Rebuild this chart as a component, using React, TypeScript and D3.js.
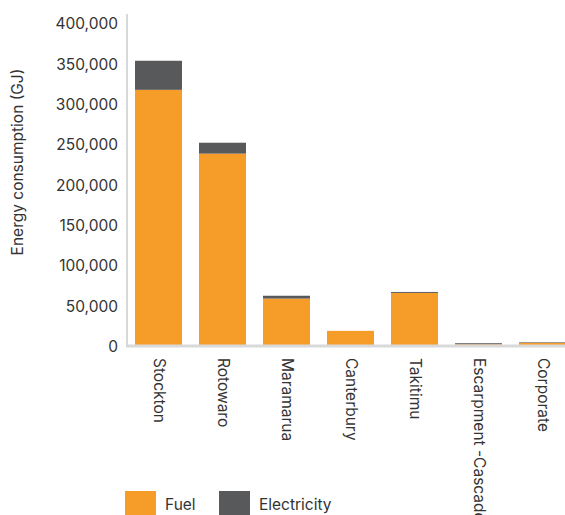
import React from "react";
import * as d3 from "d3";

const categories = ["Stockton", "Rotowaro", "Maramarua", "Canterbury", "Takitimu", "Escarpment -Cascade", "Corporate"];
const fuel = [316000, 237000, 57500, 17500, 64500, 900, 2600];
const electricity = [36000, 13500, 3500, 0, 1200, 1300, 700];
const seriesNames = ["Fuel", "Electricity"];
const seriesColors = ["#F59D28", "#58595B"];
const yTicks = [0, 50000, 100000, 150000, 200000, 250000, 300000, 350000, 400000];

const W = 565;
const H = 515;
const FONT = "Inter, 'Open Sans', sans-serif";
const FS = 15.5;

export default function App() {
  const x = d3.scaleBand<string>().domain(categories).range([126.5, 574.5]).paddingInner(0.266).paddingOuter(0.133);
  const y = d3.scaleLinear().domain([0, 400000]).range([345, 22]);
  const fmt = d3.format(",");

  const rows = categories.map((c, i) => ({ cat: c, Fuel: fuel[i], Electricity: electricity[i] }));
  const stack = d3.stack<any>().keys(seriesNames)(rows);

  return (
    <svg width={W} height={H} style={{ position: "absolute", left: 0, top: 0, display: "block" }} fontFamily={FONT}>
      <rect x={0} y={0} width={W} height={H} fill="#ffffff" />
      {/* y axis line */}
      <line x1={127} x2={127} y1={14} y2={347} stroke="#d9d9d9" strokeWidth={2} />
      {/* y tick labels */}
      {yTicks.map((t) => (
        <text key={t} x={118} y={y(t) + 3} textAnchor="end" dominantBaseline="middle" fontSize={FS} fill="#333333">
          {fmt(t)}
        </text>
      ))}
      {/* y title */}
      <text
        transform={`translate(18.5,${162}) rotate(-90)`}
        textAnchor="middle"
        dominantBaseline="middle"
        fontSize={FS}
        fill="#333333"
      >
        Energy consumption (GJ)
      </text>
      {/* bars */}
      {stack.map((s, si) => (
        <g key={s.key} fill={seriesColors[si]}>
          {s.map((d, i) => {
            const h = y(d[0]) - y(d[1]);
            if (h <= 0) return null;
            return <rect key={i} x={x(categories[i])!} y={y(d[1])} width={x.bandwidth()} height={h} />;
          })}
        </g>
      ))}
      {/* x axis line */}
      <line x1={126} x2={W} y1={346} y2={346} stroke="#d9d9d9" strokeWidth={3} />
      {/* x labels */}
      {categories.map((c) => (
        <text
          key={c}
          transform={`translate(${x(c)! + x.bandwidth() / 2},358) rotate(90)`}
          textAnchor="start"
          dominantBaseline="middle"
          fontSize={FS}
          fill="#333333"
        >
          {c}
        </text>
      ))}
      {/* legend */}
      {seriesNames.map((n, i) => {
        const lx = [125, 219][i];
        return (
          <g key={n}>
            <rect x={lx} y={491} width={31} height={31} fill={seriesColors[i]} />
            <text x={lx + 40} y={506} dominantBaseline="middle" fontSize={FS} fill="#333333">
              {n}
            </text>
          </g>
        );
      })}
    </svg>
  );
}
